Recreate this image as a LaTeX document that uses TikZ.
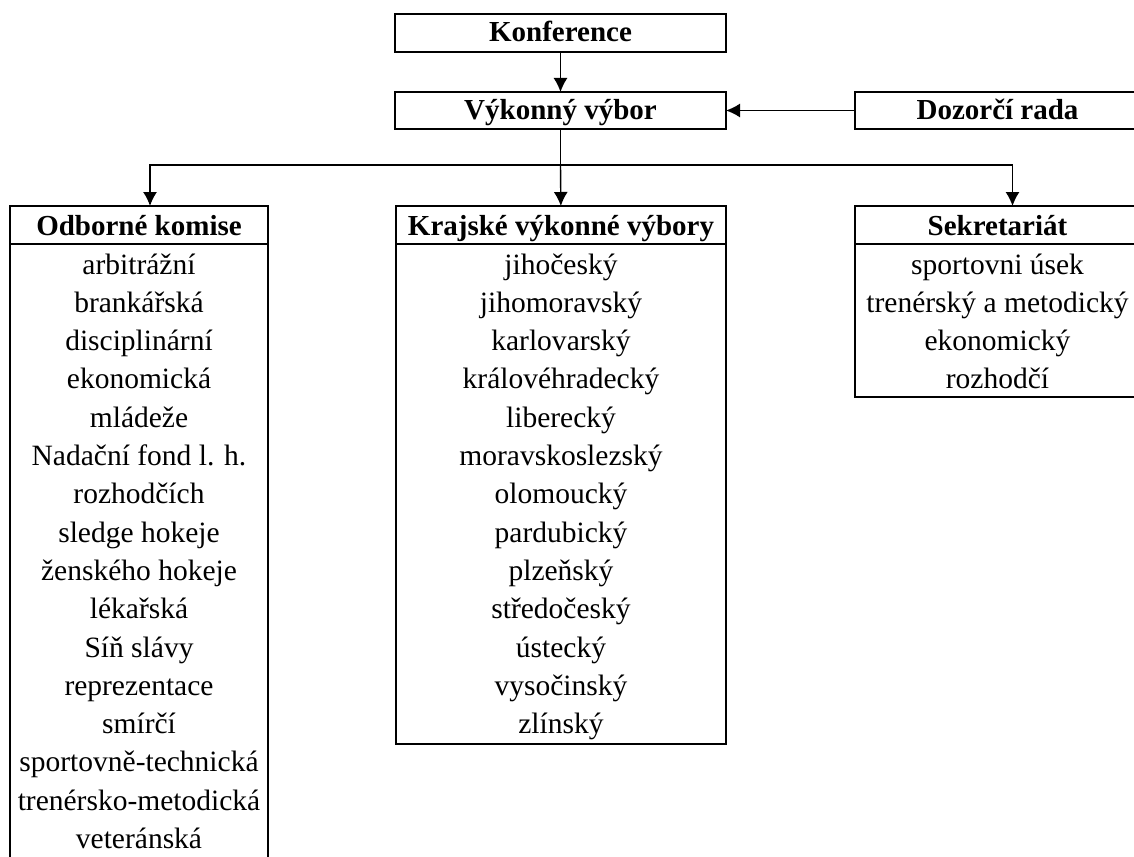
\documentclass[tikz,border=0pt]{standalone}
\usepackage{fontspec}
\setmainfont{Liberation Serif}
\usetikzlibrary{math,calc,arrows.meta}

\begin{document}
\begin{tikzpicture}[x=1pt,y=-1pt,line width=1.4pt,
	every node/.style={inner sep=0pt,outer sep=0pt,font=\fontsize{29.5}{34}\selectfont},
	topbox/.style={draw,minimum height=38pt,text height=21pt,text depth=3pt,font=\fontsize{29}{34}\selectfont\bfseries},
	headbox/.style={draw,minimum height=38pt,text height=22pt,text depth=2pt,font=\fontsize{29}{34}\selectfont\bfseries},
	listbox/.style={draw,anchor=north},
	item/.style={anchor=base},
	>={Latex[length=14pt,width=14pt]}]
	
	\tikzmath{
		\dY = 38.3;
		\dB = 30;
	}
	
	\useasboundingbox (0,0) rectangle (1134,856);
	
	%---------------------------------------------
	
	\node[topbox,minimum width=331pt] (konf) at (560.5,33) {Konference};
	\node[topbox,minimum width=331pt,minimum height=37pt] (vv) at (560.5,110.5) {Výkonný výbor};
	\node[topbox,minimum width=285pt,minimum height=37pt] (dr) at (997.5,110.5) {Dozorčí rada};
	
	\node[headbox,minimum width=258pt] (okH) at (139,225) {Odborné komise};
	\node[headbox,minimum width=330pt] (kvH) at (561,225) {Krajské výkonné výbory};
	\node[headbox,minimum width=285pt] (skH) at (997.5,225) {Sekretariát};
	
	\node[listbox,minimum width=258pt,minimum height=630pt] (okB) at (okH.south) {};
	\node[listbox,minimum width=330pt,minimum height=500pt] (kvB) at (kvH.south) {};
	\node[listbox,minimum width=285pt,minimum height=153pt] (skB) at (skH.south) {};
	
	%---------------------------------------------
	
	\foreach \t [count=\i] in {arbitrážní, brankářská, disciplinární, ekonomická, mládeže, Nadační fond l. h., rozhodčích, sledge hokeje, ženského hokeje, lékařská, Síň slávy, reprezentace, smírčí, sportovně-technická, trenérsko-metodická, veteránská} {
		\node[item] (ok\i) at ($(okH.south)+(0,\dB+\dY*\i-\dY)$) {\t};
	}
	
	\foreach \t [count=\i] in {jihočeský, jihomoravský, karlovarský, královéhradecký, liberecký, moravskoslezský, olomoucký, pardubický, plzeňský, středočeský, ústecký, vysočinský, zlínský} {
		\node[item] (kv\i) at ($(kvH.south)+(0,\dB+\dY*\i-\dY)$) {\t};
	}
	
	\foreach \t [count=\i] in {sportovni úsek, trenérský a metodický, ekonomický, rozhodčí} {
		\node[item] (sk\i) at ($(skH.south)+(0,\dB+\dY*\i-\dY)$) {\t};
	}
	
	%---------------------------------------------
	
	\coordinate (fork) at (560.5,165);
	\coordinate (okIn) at ($(okH.north)+(11,0)$);
	\coordinate (skIn) at ($(skH.north)+(15,0)$);
	
	\draw [->] (konf) -- (vv);
	\draw [->] (dr) -- (vv);
	\draw [] (vv) -- (fork);
	\draw [->] (fork) -- (kvH);
	\draw [->] (fork) -| (okIn);
	\draw [->] (fork) -| (skIn);
	
	%---------------------------------------------
	
\end{tikzpicture}
\end{document}
